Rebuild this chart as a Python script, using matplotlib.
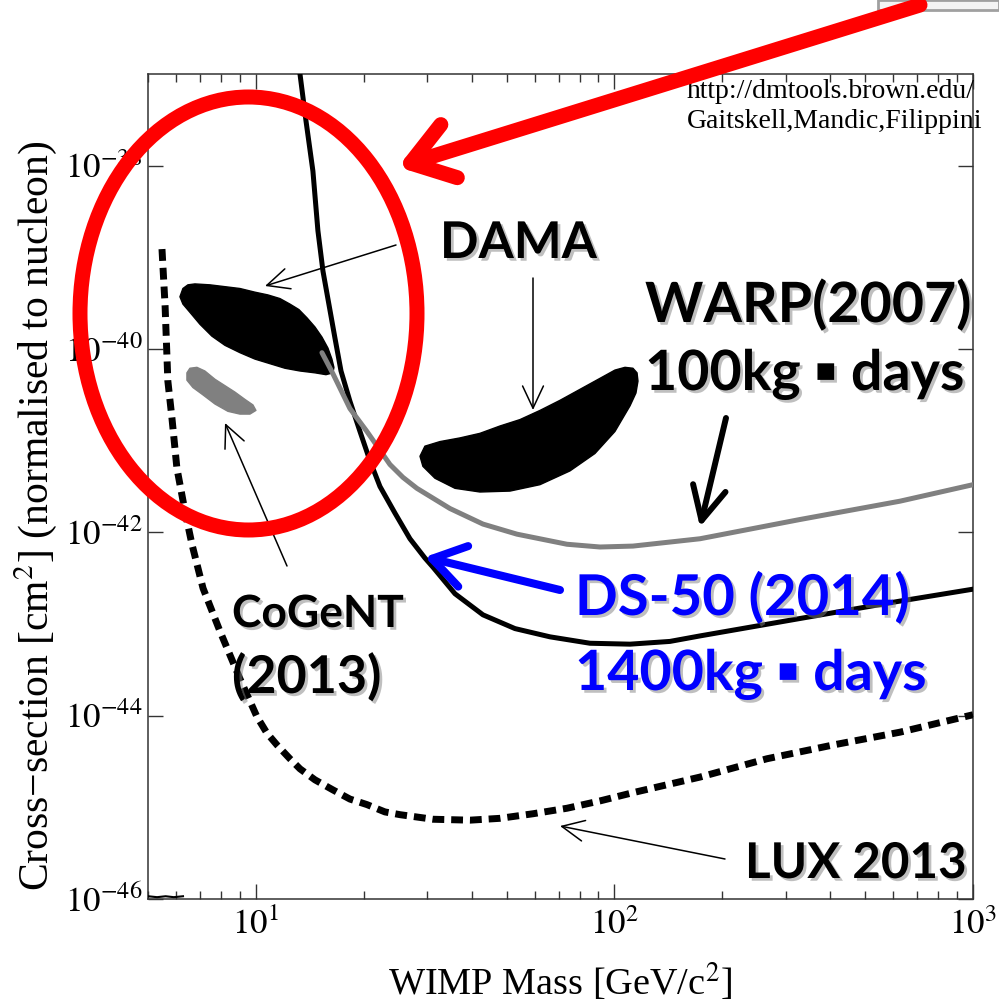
import numpy as np
import matplotlib
matplotlib.use("Agg")
import matplotlib.pyplot as plt
from matplotlib.patches import Ellipse, Polygon, Rectangle, FancyArrowPatch
from matplotlib.ticker import LogLocator, NullFormatter, NullLocator
import matplotlib.patheffects as pe

W, H = 999, 1001

# ---------------- data (WIMP mass in GeV, log10 cross-section in cm^2) ----------------
ds50_mass = [13.27, 13.79, 14.42, 14.89, 15.38, 16.61, 17.27, 18.29, 19.51, 20.80, 22.18,
             24.42, 26.89, 29.60, 31.17, 35.91, 42.98, 52.78, 66.09, 85.46, 110.5, 142.8,
             173.2, 329.2, 625.9, 1000]
ds50_logsig = [-37.00, -37.51, -38.06, -38.71, -39.15, -39.88, -40.24, -40.57, -40.90, -41.22,
               -41.50, -41.79, -42.07, -42.28, -42.38, -42.67, -42.90, -43.05, -43.14, -43.21,
               -43.22, -43.19, -43.13, -42.94, -42.75, -42.62]

warp_mass = [15.28, 16.40, 18.29, 20.40, 23.65, 25.70, 28.12, 34.76, 42.98, 53.46, 73.71,
             91.12, 112.6, 173.2, 329.2, 625.9, 1000]
warp_logsig = [-40.04, -40.27, -40.65, -40.90, -41.26, -41.40, -41.52, -41.74, -41.91, -42.02,
               -42.13, -42.16, -42.15, -42.07, -41.86, -41.66, -41.48]

lux_mass = [5.47, 5.58, 5.68, 5.83, 6.02, 6.34, 6.63, 7.12, 7.94, 9.03, 10.06, 10.73, 11.45,
            12.44, 13.27, 14.61, 16.40, 18.29, 20.40, 22.90, 25.22, 31.17, 39.54, 47.93,
            59.28, 73.71, 91.12, 112.6, 173.2, 266.3, 406.9, 625.9, 1000]
lux_logsig = [-38.91, -39.53, -40.35, -40.75, -41.30, -41.77, -42.13, -42.61, -43.08, -43.60,
              -44.01, -44.19, -44.32, -44.47, -44.58, -44.70, -44.81, -44.91, -44.97, -45.05,
              -45.08, -45.13, -45.14, -45.12, -45.07, -45.01, -44.93, -44.84, -44.67, -44.47,
              -44.32, -44.18, -43.99]

lux_floor_mass = [5.0, 5.3, 5.6, 5.9, 6.26]
lux_floor_logsig = [-45.97, -45.98, -45.97, -45.98, -45.97]

dama_low_mass = [6.138, 6.257, 6.461, 6.757, 7.441, 8.195, 9.024, 9.936, 10.80, 11.67, 12.44,
                 13.18, 13.88, 14.61, 15.28, 15.88, 16.29, 16.50, 16.40, 15.68, 14.61, 13.27,
                 12.05, 10.94, 9.936, 9.024, 8.195, 7.537, 6.979, 6.545, 6.257]
dama_low_logsig = [-39.43, -39.34, -39.30, -39.29, -39.30, -39.32, -39.34, -39.38, -39.41,
                   -39.45, -39.51, -39.57, -39.66, -39.76, -39.87, -39.99, -40.11, -40.20,
                   -40.26, -40.28, -40.26, -40.24, -40.21, -40.16, -40.11, -40.04, -39.96,
                   -39.86, -39.73, -39.60, -39.51]

dama_high_mass = [28.68, 29.60, 32.60, 37.07, 42.15, 47.93, 54.51, 61.98, 70.47, 80.14, 91.12,
                  100.3, 107.0, 112.6, 115.6, 116.3, 114.8, 110.5, 100.3, 88.23, 75.14, 61.98,
                  51.12, 42.15, 35.91, 31.57, 29.22]
dama_high_logsig = [-41.17, -41.06, -41.01, -40.97, -40.92, -40.84, -40.77, -40.67, -40.56,
                    -40.44, -40.32, -40.23, -40.20, -40.21, -40.26, -40.35, -40.48, -40.62,
                    -40.90, -41.14, -41.33, -41.48, -41.55, -41.56, -41.52, -41.41, -41.28]

cogent_mass = [6.420, 6.545, 6.845, 7.205, 7.686, 8.195, 8.738, 9.319, 9.809, 10.0, 9.623,
               9.024, 8.354, 7.686, 7.114, 6.671, 6.420]
cogent_logsig = [-40.26, -40.21, -40.20, -40.24, -40.33, -40.40, -40.47, -40.55, -40.61,
                 -40.67, -40.71, -40.71, -40.68, -40.60, -40.50, -40.42, -40.34]

x_ticks = [10, 100, 1000]
x_ticklabels = ['$10^{1}$', '$10^{2}$', '$10^{3}$']
y_ticks = [1e-46, 1e-44, 1e-42, 1e-40, 1e-38]
y_ticklabels = ['$10^{-46}$', '$10^{-44}$', '$10^{-42}$', '$10^{-40}$', '$10^{-38}$']

# ---------------- style ----------------
plt.rcParams['mathtext.fontset'] = 'stix'
plt.rcParams['font.family'] = ['Liberation Serif', 'DejaVu Serif']

fig = plt.figure(figsize=(W / 100, H / 100), dpi=100)


def fx(px):
    return px / W


def fy(py):
    return 1 - py / H


ax = fig.add_axes([fx(148), fy(899), (973 - 148) / W, (899 - 74) / H])
ax.set_xscale('log')
ax.set_yscale('log')
ax.set_xlim(5, 1000)
ax.set_ylim(1e-46, 1e-37)


def sig(v):
    return 10.0 ** np.asarray(v)


ax.add_patch(Polygon(np.column_stack([dama_low_mass, sig(dama_low_logsig)]), closed=True,
                     fc='black', ec='black', lw=1, joinstyle='round', zorder=2))
ax.add_patch(Polygon(np.column_stack([dama_high_mass, sig(dama_high_logsig)]), closed=True,
                     fc='black', ec='black', lw=1, joinstyle='round', zorder=2))
ax.add_patch(Polygon(np.column_stack([cogent_mass, sig(cogent_logsig)]), closed=True,
                     fc='#808080', ec='#808080', lw=1, joinstyle='round', zorder=2))

ax.plot(ds50_mass, sig(ds50_logsig), color='black', lw=3.6, solid_joinstyle='round', zorder=3)
ax.plot(warp_mass, sig(warp_logsig), color='#808080', lw=3.6, solid_joinstyle='round',
        solid_capstyle='round', zorder=4)
ax.plot(lux_mass, sig(lux_logsig), color='black', lw=5, linestyle=(0, (1.7, 1.0)),
        dash_capstyle='butt', zorder=3)
ax.plot(lux_floor_mass, sig(lux_floor_logsig), color='black', lw=1.5, zorder=3)

ax.set_xticks(x_ticks)
ax.set_xticklabels(x_ticklabels)
ax.xaxis.set_minor_locator(LogLocator(base=10, subs=np.arange(2, 10)))
ax.xaxis.set_minor_formatter(NullFormatter())
ax.set_yticks(y_ticks)
ax.set_yticklabels(y_ticklabels)
ax.yaxis.set_minor_locator(NullLocator())
ax.tick_params(which='both', direction='in', top=True, right=True, color='#333333')
ax.tick_params(which='major', length=11, width=1)
ax.tick_params(which='minor', length=6, width=1)
ax.tick_params(axis='x', labelsize=25, pad=7)
ax.tick_params(axis='y', labelsize=25, pad=4)
for s in ax.spines.values():
    s.set_color('#333333')
    s.set_linewidth(1.1)

# axis labels
fig.text(fx(560), fy(995), 'WIMP Mass [GeV/c$^2$]', ha='center', va='baseline', fontsize=27.5)
fig.text(fx(36), fy(516), 'Cross\u2212section [cm$^2$] (normalised to nucleon)', rotation=90,
         ha='center', va='center', fontsize=30)

# credit text
fig.text(fx(687), fy(98), 'http://dmtools.brown.edu/', fontsize=20, va='baseline')
fig.text(fx(687), fy(128), 'Gaitskell,Mandic,Filippini', fontsize=20, va='baseline')


# annotation arrows
def arrow(p_from, p_to, color='black', lw=1.1, hl=1.6, hw=0.75, z=6):
    a = FancyArrowPatch((fx(p_from[0]), fy(p_from[1])), (fx(p_to[0]), fy(p_to[1])),
                        transform=fig.transFigure,
                        arrowstyle='->,head_length=%g,head_width=%g' % (hl, hw),
                        mutation_scale=10, lw=lw, color=color, shrinkA=0, shrinkB=0,
                        capstyle='round', joinstyle='round', zorder=z)
    fig.add_artist(a)


arrow((396, 245), (265, 286))
arrow((533, 278), (533, 410))
arrow((287, 566), (225, 423))
arrow((725, 859), (560, 826))
arrow((726, 418), (700, 527), lw=4.3, hl=2.4, hw=1.2)
arrow((560, 590), (425, 557), color='#0000FF', lw=5.8, hl=2.3, hw=1.5)
arrow((920, 5), (398, 167), color='#FF0000', lw=10.8, hl=2.9, hw=2.0, z=11)

# red ellipse
fig.add_artist(Ellipse((fx(248.5), fy(313.5)), width=337 / W, height=433 / H,
                       transform=fig.transFigure, fill=False, ec='#FF0000', lw=10.8, zorder=10))

# grey box fragment at top right
fig.add_artist(Rectangle((fx(878), fy(10)), (W - 878) / W, 10 / H, transform=fig.transFigure,
                         fc='#f4f4f4', ec='#a0a0a0', lw=2, zorder=9))

# bold labels
shadow = [pe.withSimplePatchShadow(offset=(2, -2), shadow_rgbFace='#808080', alpha=0.5)]
bold_font = ['Lato', 'DejaVu Sans']


def label(px, py, s, size, color='black'):
    fig.text(fx(px), fy(py), s, ha='left', va='baseline', fontsize=size, fontweight='bold',
             family=bold_font, color=color, path_effects=shadow, zorder=12)


label(440, 258, 'DAMA', 36.5)
label(645, 322, 'WARP(2007)', 40)
label(645, 390, '100kg \u25aa days', 40)
label(575, 615, 'DS-50 (2014)', 40.5, color='#0000FF')
label(575, 690, '1400kg \u25aa days', 40, color='#0000FF')
label(232, 627, 'CoGeNT', 32)
label(232, 693, '(2013)', 37.5)
label(745, 878, 'LUX 2013', 35.5)

fig.savefig('out.png', dpi=100, facecolor='white')
